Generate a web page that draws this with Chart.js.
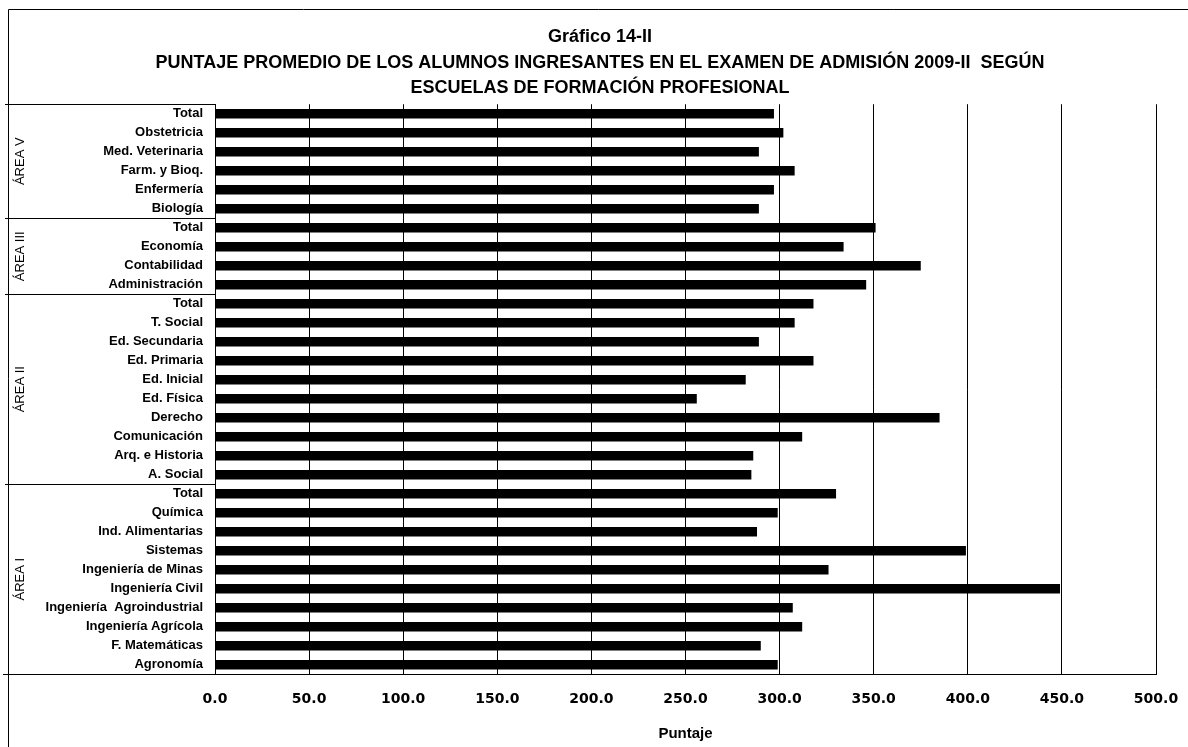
<!DOCTYPE html>
<html>
<head>
<meta charset="utf-8">
<script src="https://cdn.jsdelivr.net/npm/chart.js@4.4.1/dist/chart.umd.min.js"></script>
<style>
  html, body { margin: 0; padding: 0; background: #fff; }
  #wrap { width: 1188px; height: 747px; position: relative; }
</style>
</head>
<body>
<div id="wrap"><canvas id="c" width="1188" height="747"></canvas></div>
<script>
const titleLines = [
  "Gráfico 14-II",
  "PUNTAJE PROMEDIO DE LOS ALUMNOS INGRESANTES EN EL EXAMEN DE ADMISIÓN 2009-II  SEGÚN",
  "ESCUELAS DE FORMACIÓN PROFESIONAL"
];
const categories = [
  "Total", "Obstetricia", "Med. Veterinaria", "Farm. y Bioq.", "Enfermería", "Biología",
  "Total", "Economía", "Contabilidad", "Administración",
  "Total", "T. Social", "Ed. Secundaria", "Ed. Primaria", "Ed. Inicial", "Ed. Física",
  "Derecho", "Comunicación", "Arq. e Historia", "A. Social",
  "Total", "Química", "Ind. Alimentarias", "Sistemas", "Ingeniería de Minas",
  "Ingeniería Civil", "Ingeniería  Agroindustrial", "Ingeniería Agrícola", "F. Matemáticas", "Agronomía"
];
const puntaje = [
  297, 302, 289, 308, 297, 289,
  351, 334, 375, 346,
  318, 308, 289, 318, 282, 256, 385, 312, 286, 285,
  330, 299, 288, 399, 326, 449, 307, 312, 290, 299
];
const groupNames = ["ÁREA V", "ÁREA III", "ÁREA II", "ÁREA I"];
const groupSizes = [6, 4, 10, 10];
const tickLabels = ["0.0", "50.0", "100.0", "150.0", "200.0", "250.0", "300.0", "350.0", "400.0", "450.0", "500.0"];
const axisTitle = "Puntaje";

const decor = {
  id: 'decor',
  afterDraw(chart) {
    const ctx = chart.ctx;
    const ca = chart.chartArea;
    const ys = chart.scales.y;
    ctx.save();
    ctx.strokeStyle = '#000';
    ctx.lineWidth = 1;
    // outer frame (top and left)
    ctx.beginPath();
    ctx.moveTo(8.5, 747);
    ctx.lineTo(8.5, 9.5);
    ctx.lineTo(1188, 9.5);
    ctx.stroke();
    // group separators and labels
    let start = 0;
    const bounds = [ca.top];
    groupSizes.forEach((n) => {
      const end = start + n;
      let yb;
      if (end >= categories.length) yb = ca.bottom;
      else yb = (ys.getPixelForValue(end - 1) + ys.getPixelForValue(end)) / 2;
      bounds.push(yb);
      start = end;
    });
    bounds.forEach((yb, i) => {
      const yy = Math.round(yb) + 0.5;
      ctx.beginPath();
      ctx.moveTo(i === bounds.length - 1 ? 3 : 5, yy);
      ctx.lineTo(ca.left, yy);
      ctx.stroke();
    });
    ctx.fillStyle = '#000';
    ctx.font = '13px "Liberation Sans", Arial, sans-serif';
    ctx.textAlign = 'center';
    ctx.textBaseline = 'middle';
    groupNames.forEach((g, i) => {
      const cy = (bounds[i] + bounds[i + 1]) / 2;
      ctx.save();
      ctx.translate(20, cy);
      ctx.rotate(-Math.PI / 2);
      ctx.fillText(g, 0, 0);
      ctx.restore();
    });
    ctx.restore();
  }
};

new Chart(document.getElementById('c'), {
  type: 'bar',
  data: {
    labels: categories,
    datasets: [{
      data: puntaje,
      backgroundColor: '#000',
      borderWidth: 0,
      barPercentage: 0.5,
      categoryPercentage: 1.0
    }]
  },
  options: {
    indexAxis: 'y',
    responsive: false,
    animation: false,
    layout: { padding: { top: 13, left: 44, right: 32, bottom: 4 } },
    plugins: {
      legend: { display: false },
      tooltip: { enabled: false },
      title: {
        display: true,
        text: titleLines,
        color: '#000',
        font: { family: '"Liberation Sans", Arial, sans-serif', size: 18, weight: 'bold', lineHeight: 1.43 },
        padding: { top: 11, bottom: 3 }
      }
    },
    scales: {
      x: {
        min: 0,
        max: 500,
        grid: { color: '#000', lineWidth: 1, drawTicks: false },
        border: { display: true, color: '#000', width: 1 },
        afterFit: (s) => { s.paddingRight = 0; s.paddingLeft = 0; },
        ticks: {
          stepSize: 50,
          color: '#000',
          padding: 17,
          font: { family: '"DejaVu Sans", sans-serif', size: 14, weight: 'bold' },
          callback: (v, i) => tickLabels[i]
        },
        title: {
          display: true,
          text: axisTitle,
          color: '#000',
          font: { family: '"Liberation Sans", Arial, sans-serif', size: 15, weight: 'bold' },
          padding: { top: 0, bottom: 0 }
        }
      },
      y: {
        grid: { display: false, drawTicks: false },
        border: { display: true, color: '#000', width: 1 },
        afterFit: (s) => { s.width = 171; },
        ticks: {
          autoSkip: false,
          color: '#000',
          padding: 12,
          font: { family: '"Liberation Sans", Arial, sans-serif', size: 13, weight: 'bold' }
        }
      }
    }
  },
  plugins: [decor]
});
</script>
</body>
</html>
